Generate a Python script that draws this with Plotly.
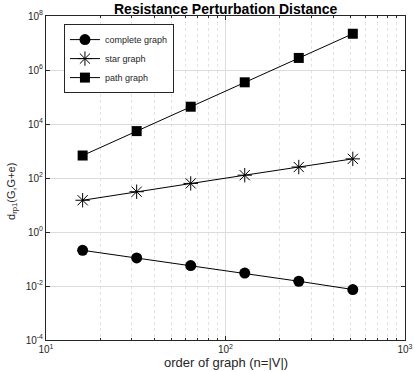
import plotly.graph_objects as go

n_vals = [16, 32, 64, 128, 256, 512]
complete_graph = [0.21, 0.11, 0.057, 0.030, 0.015, 0.0074]
star_graph = [15, 31, 63, 127, 255, 511]
path_graph = [680, 5460, 43700, 350000, 2.8e6, 2.2e7]
series_names = ["complete graph", "star graph", "path graph"]
x_tick_vals = [10, 100, 1000]
x_tick_text = ["10<sup>1</sup>", "10<sup>2</sup>", "10<sup>3</sup>"]
y_tick_vals = [1e-4, 1e-2, 1, 1e2, 1e4, 1e6, 1e8]
y_tick_text = ["10<sup>-4</sup>", "10<sup>-2</sup>", "10<sup>0</sup>", "10<sup>2</sup>",
               "10<sup>4</sup>", "10<sup>6</sup>", "10<sup>8</sup>"]

fig = go.Figure()
fig.add_trace(go.Scatter(x=n_vals, y=complete_graph, name=series_names[0], mode="lines+markers",
                         line=dict(color="black", width=1),
                         marker=dict(symbol="circle", size=11, color="black")))
fig.add_trace(go.Scatter(x=n_vals, y=star_graph, name=series_names[1], mode="lines+markers",
                         line=dict(color="black", width=1),
                         marker=dict(symbol="asterisk-open", size=12, color="black",
                                     line=dict(color="black", width=1))))
fig.add_trace(go.Scatter(x=n_vals, y=path_graph, name=series_names[2], mode="lines+markers",
                         line=dict(color="black", width=1),
                         marker=dict(symbol="square", size=10, color="black")))

font = "Liberation Sans, Arial, Helvetica, sans-serif"
PW, PH = 359, 324
fig.update_layout(
    width=415, height=372,
    margin=dict(l=46, r=10, t=16, b=32, autoexpand=False),
    paper_bgcolor="white", plot_bgcolor="white",
    font=dict(family=font, size=10, color="#262626"),
    showlegend=True,
    legend=dict(x=0.05, y=0.975, xanchor="left", yanchor="top",
                bgcolor="white", bordercolor="#262626", borderwidth=1,
                font=dict(size=9, color="#262626"),
                tracegroupgap=0, itemwidth=30),
    xaxis=dict(type="log", range=[1, 3], tickvals=x_tick_vals, ticktext=x_tick_text,
               automargin=False,
               ticks="inside", ticklen=4, tickcolor="#262626",
               showline=True, linecolor="#262626", linewidth=1, mirror="ticks",
               showgrid=True, gridcolor="#dcdcdc", gridwidth=1,
               minor=dict(dtick="D1", showgrid=True, gridcolor="#e2e2e2", griddash="dot",
                          ticks="inside", ticklen=2, tickcolor="#262626"),
               zeroline=False),
    yaxis=dict(type="log", range=[-4, 8], tickvals=y_tick_vals, ticktext=y_tick_text,
               automargin=False,
               ticks="inside", ticklen=4, tickcolor="#262626",
               showline=True, linecolor="#262626", linewidth=1, mirror="ticks",
               showgrid=True, gridcolor="#dcdcdc", gridwidth=1,
               zeroline=False),
    annotations=[
        dict(text="<b>Resistance Perturbation Distance</b>", xref="paper", yref="paper",
             x=0.5, y=1 + 7 / PH, xanchor="center", yanchor="middle", showarrow=False,
             font=dict(size=14, color="black")),
        dict(text="order of graph (n=|V|)", xref="paper", yref="paper",
             x=0.5, y=-22 / PH, xanchor="center", yanchor="middle", showarrow=False,
             font=dict(size=13, color="#262626")),
        dict(text="d<sub>rp1</sub>(G,G+e)", xref="paper", yref="paper",
             x=-34 / PW, y=0.457, xanchor="center", yanchor="middle", showarrow=False,
             textangle=-90, font=dict(size=11, color="#262626")),
    ],
)

fig.write_html("out.html", config={"displayModeBar": False},
               post_script="document.body.style.margin='0';document.body.style.overflow='hidden';")
